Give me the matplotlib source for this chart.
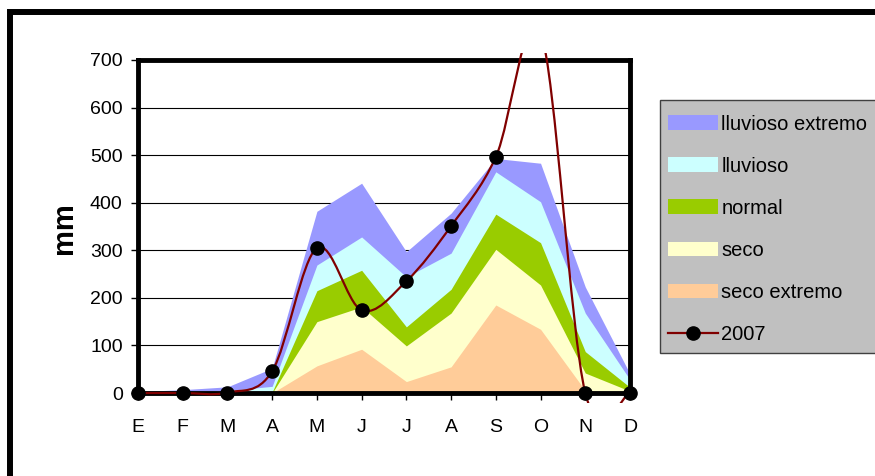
import numpy as np
import matplotlib
matplotlib.use("Agg")
import matplotlib.pyplot as plt
from matplotlib.path import Path
from matplotlib.patches import PathPatch, Patch, Rectangle
from matplotlib.lines import Line2D

plt.rcParams['font.family'] = ['Liberation Sans', 'DejaVu Sans']

# monthly precipitation (mm): upper limit of each class, and the 2007 record
meses = ['E', 'F', 'M', 'A', 'M', 'J', 'J', 'A', 'S', 'O', 'N', 'D']
seco_extremo = [0, 0, 0, 0, 57, 92, 24, 55, 185, 134, 5, 0]
seco = [1, 1, 1, 0, 150, 181, 99, 168, 302, 227, 42, 4]
normal = [1, 2, 2, 2, 215, 258, 139, 218, 376, 316, 87, 12]
lluvioso = [2, 3, 5, 14, 269, 328, 244, 294, 465, 402, 168, 28]
lluvioso_extremo = [3, 7, 13, 52, 382, 441, 297, 378, 493, 483, 223, 40]
anio_2007 = [0, 0, 1, 46, 305, 174, 235, 351, 496, 760, 0, 0]

clases = ['lluvioso extremo', 'lluvioso', 'normal', 'seco', 'seco extremo']
colores = ['#9999ff', '#ccffff', '#99cc00', '#ffffcc', '#ffcc99']
limites = [lluvioso_extremo, lluvioso, normal, seco, seco_extremo]


def smooth_path(x, y):
    # Catmull-Rom style Bezier through the points (like a "smoothed line")
    pts = np.column_stack([x, y]).astype(float)
    p = np.vstack([pts[0], pts, pts[-1]])
    verts = [pts[0]]
    codes = [Path.MOVETO]
    for i in range(1, len(p) - 2):
        c1 = p[i] + (p[i + 1] - p[i - 1]) / 6
        c2 = p[i + 1] - (p[i + 2] - p[i]) / 6
        verts += [c1, c2, p[i + 1]]
        codes += [Path.CURVE4] * 3
    return Path(verts, codes)


fig = plt.figure(figsize=(8.75, 4.76), dpi=100)
ax = fig.add_axes([138 / 875, 83 / 476, 492 / 875, 333 / 476])

x = np.arange(len(meses))
for lim, col in zip(limites, colores):
    ax.fill_between(x, 0, lim, color=col, lw=0, zorder=2)

clip = Rectangle((-0.03, -0.03), 1.06, 1.051, transform=ax.transAxes)
line = PathPatch(smooth_path(x, anio_2007), fill=False, edgecolor='#800000',
                 lw=1.6, zorder=4)
ax.add_patch(line)
line.set_clip_path(clip)
pts, = ax.plot(x, anio_2007, 'o', color='black', ms=9.5, zorder=5)
pts.set_clip_path(clip)

ax.set_xlim(0, 11)
ax.set_ylim(0, 700)
ax.set_yticks(range(0, 701, 100))
ax.set_xticks(x)
ax.set_xticklabels(meses)
ax.yaxis.grid(True, color='black', lw=0.8)
ax.set_axisbelow(True)
for s in ax.spines.values():
    s.set_linewidth(3.5)
    s.set_zorder(3)
ax.tick_params(axis='both', labelsize=14, length=5, width=1, color='black')
ax.tick_params(axis='y', pad=6)
ax.tick_params(axis='x', pad=14)

fig.text(64 / 875, 1 - 228 / 476, 'mm', rotation=90, ha='center', va='center',
         fontsize=21, fontweight='bold')

# legend box (gray panel running off the right edge)
fig.add_artist(Rectangle((660 / 875, 1 - 353 / 476), 0.5, 253 / 476,
                         transform=fig.transFigure, facecolor='#c0c0c0',
                         edgecolor='#404040', lw=1, clip_on=False, zorder=1))

handles = [Patch(facecolor=c, edgecolor='none') for c in colores]
handles.append(Line2D([], [], color='#800000', lw=1.6, marker='o',
                      mfc='black', mec='black', ms=9.5))
leg = fig.legend(handles, clases + ['2007'], loc='upper left',
                 bbox_to_anchor=(668 / 875, 1 - 114.5 / 476), borderaxespad=0,
                 fontsize=14.5, frameon=False,
                 handlelength=2.5, handleheight=0.75, handletextpad=0.15,
                 labelspacing=1.15, borderpad=0, numpoints=1)
leg.set_zorder(2)

# outer chart frame
fig.add_artist(Rectangle((10 / 875, -0.2), 1.2, 1.2 - 11.5 / 476,
                         transform=fig.transFigure, fill=False,
                         edgecolor='black', lw=4.3, clip_on=False))

fig.savefig('out.png', dpi=100)
